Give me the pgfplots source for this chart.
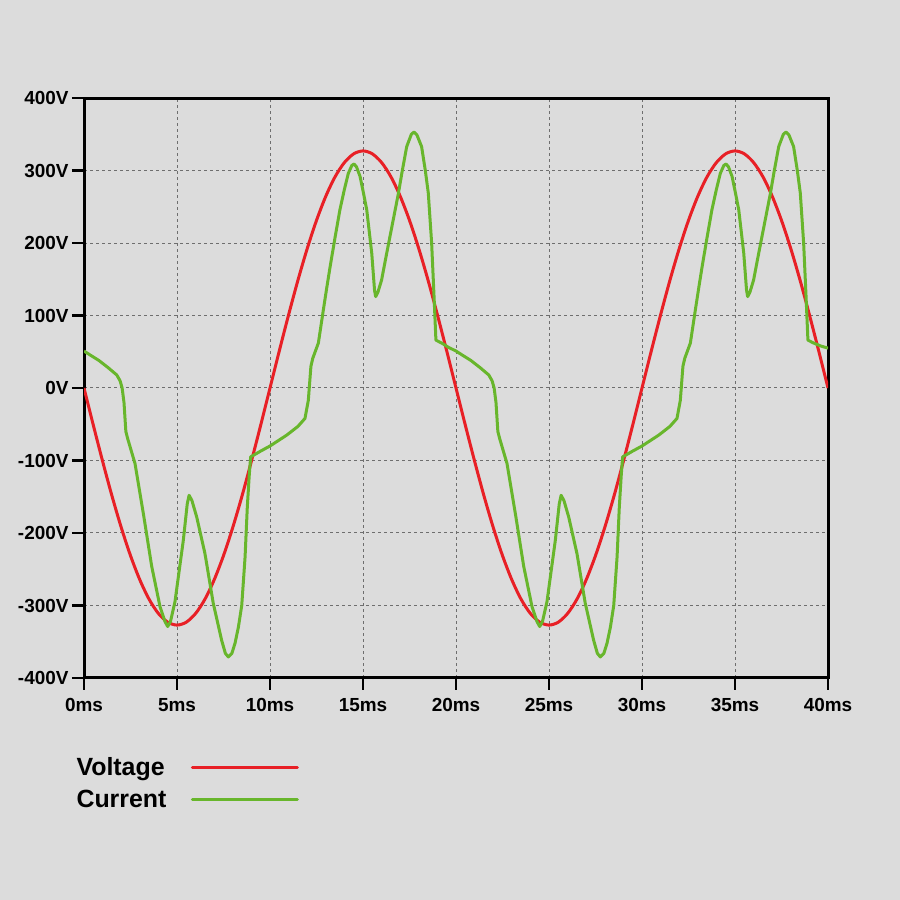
\documentclass[border=0pt]{standalone}
\usepackage{fontspec}
\setmainfont{Liberation Sans}
\usepackage{pgfplots}
\usepackage{pgfplotstable}
\pgfplotsset{compat=1.18}

\definecolor{bg}{RGB}{220,220,220}
\definecolor{vred}{RGB}{232,32,38}
\definecolor{igreen}{RGB}{104,182,44}
\definecolor{gridgray}{RGB}{110,110,110}

% Voltage (V) vs time (ms)
\pgfplotstableread{
t v
0 0
0.5 -51.2
1 -101.0
1.5 -148.5
2 -192.2
2.5 -231.2
3 -264.5
3.5 -291.4
4 -311.0
4.5 -323.0
5 -327.0
5.5 -323.0
6 -311.0
6.5 -291.4
7 -264.5
7.5 -231.2
8 -192.2
8.5 -148.5
9 -101.0
9.5 -51.2
10 0
10.5 51.2
11 101.0
11.5 148.5
12 192.2
12.5 231.2
13 264.5
13.5 291.4
14 311.0
14.5 323.0
15 327.0
15.5 323.0
16 311.0
16.5 291.4
17 264.5
17.5 231.2
18 192.2
18.5 148.5
19 101.0
19.5 51.2
20 0
20.5 -51.2
21 -101.0
21.5 -148.5
22 -192.2
22.5 -231.2
23 -264.5
23.5 -291.4
24 -311.0
24.5 -323.0
25 -327.0
25.5 -323.0
26 -311.0
26.5 -291.4
27 -264.5
27.5 -231.2
28 -192.2
28.5 -148.5
29 -101.0
29.5 -51.2
30 0
30.5 51.2
31 101.0
31.5 148.5
32 192.2
32.5 231.2
33 264.5
33.5 291.4
34 311.0
34.5 323.0
35 327.0
35.5 323.0
36 311.0
36.5 291.4
37 264.5
37.5 231.2
38 192.2
38.5 148.5
39 101.0
39.5 51.2
40 0
}\voltage

% Current vs time (ms)
\pgfplotstableread{
t i
0 51
0.3 46
0.8 38
1.3 28
1.76 18
1.94 10
2.05 0
2.15 -20
2.25 -60
2.35 -70
2.74 -104
3.19 -173
3.64 -246
4.09 -302
4.35 -322
4.5 -329
4.65 -322
4.89 -295
5.34 -210
5.55 -160
5.65 -148
5.8 -155
6.06 -178
6.5 -228
6.95 -297
7.4 -348
7.6 -366
7.76 -371
7.95 -366
8.12 -352
8.3 -330
8.48 -300
8.66 -233
8.78 -164
8.89 -118
8.96 -95
9.5 -87
10.0 -80
10.9 -65
11.5 -53
11.88 -42
12.06 -17
12.2 30
12.3 41
12.6 62
12.87 108
13.05 138
13.23 167
13.5 208
13.76 246
14.0 274
14.21 296
14.4 307
14.52 309
14.65 305
14.84 292
15.0 272
15.2 246
15.47 186
15.62 135
15.68 126
15.8 132
16.0 149
16.2 176
16.45 209
16.9 268
17.1 298
17.35 333
17.6 350
17.74 353
17.9 349
18.15 333
18.35 300
18.51 269
18.69 200
18.82 126
18.92 66
19.23 62
19.6 56
20 51
20.3 46
20.8 38
21.3 28
21.76 18
21.94 10
22.05 0
22.15 -20
22.25 -60
22.35 -70
22.74 -104
23.19 -173
23.64 -246
24.09 -302
24.35 -322
24.5 -329
24.65 -322
24.89 -295
25.34 -210
25.55 -160
25.65 -148
25.8 -155
26.06 -178
26.5 -228
26.95 -297
27.4 -348
27.6 -366
27.76 -371
27.95 -366
28.12 -352
28.3 -330
28.48 -300
28.66 -233
28.78 -164
28.89 -118
28.96 -95
29.5 -87
30.0 -80
30.9 -65
31.5 -53
31.88 -42
32.06 -17
32.2 30
32.3 41
32.6 62
32.87 108
33.05 138
33.23 167
33.5 208
33.76 246
34.0 274
34.21 296
34.4 307
34.52 309
34.65 305
34.84 292
35.0 272
35.2 246
35.47 186
35.62 135
35.68 126
35.8 132
36.0 149
36.2 176
36.45 209
36.9 268
37.1 298
37.35 333
37.6 350
37.74 353
37.9 349
38.15 333
38.35 300
38.51 269
38.69 200
38.82 126
38.92 66
39.23 62
39.6 58
40 55
}\current

\begin{document}
\begin{tikzpicture}
\fill[bg] (0,0) rectangle (900bp,900bp);
\begin{axis}[
    at={(84bp,222bp)}, anchor=south west,
    scale only axis,
    width=744bp, height=580bp,
    xmin=0, xmax=40,
    ymin=-400, ymax=400,
    xtick={0,5,...,40},
    ytick={-400,-300,...,400},
    xticklabel={\pgfmathprintnumber{\tick}ms},
    yticklabel={\pgfmathprintnumber{\tick}V},
    /pgf/number format/assume math mode=true,
    ticklabel style={font=\fontsize{19}{19}\selectfont\bfseries},
    xticklabel style={yshift=-5bp},
    tick align=outside,
    tick pos=left,
    major tick length=12bp,
    tick style={black, line width=2.5bp},
    axis line style={black, line width=3bp},
    grid=major,
    major grid style={gridgray, line width=1bp, dash pattern=on 3bp off 3bp},
    axis background/.style={fill=bg},
    legend style={
        at={(rel axis cs:-0.017,-0.13)}, anchor=north west,
        draw=none, fill=none,
        font=\fontsize{25}{25}\selectfont\bfseries,
        row sep=9bp,
    },
    legend cell align=left,
    legend plot pos=right,
    legend image code/.code={%
        \path[draw=none, fill=none] (0bp,0bp) -- (1bp,0bp);
        \draw[#1, line cap=round] (24bp,0bp) -- (129bp,0bp);},
]
\addplot[vred, line width=3bp, smooth] table[x=t, y=v] {\voltage};
\addplot[igreen, line width=3bp, line join=round] table[x=t, y=i] {\current};
\legend{Voltage, Current}
\end{axis}
\end{tikzpicture}
\end{document}
